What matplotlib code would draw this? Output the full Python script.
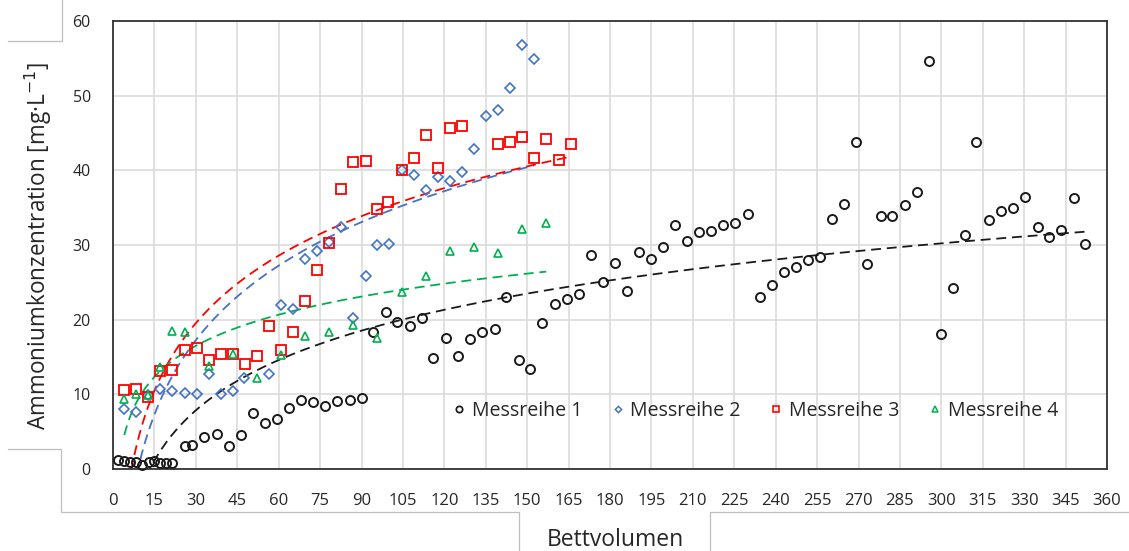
import numpy as np
import matplotlib
matplotlib.use("Agg")
import matplotlib.pyplot as plt
from matplotlib.lines import Line2D

# ---------------- data ----------------
m1_x = [1.7, 4.1, 6.2, 8.4, 10.6, 12.9, 14.9, 17.1, 19.3, 21.5,
        26.0, 28.7, 33.1, 37.5, 41.9, 46.3, 50.7, 54.9, 59.4, 63.8, 68.2, 72.5, 76.9, 81.2, 85.7, 90.0,
        94.2, 98.7, 102.9, 107.4, 111.8, 116.0, 120.7, 125.0, 129.3, 133.7, 138.2, 142.3, 146.9, 151.1,
        155.4, 159.9, 164.3, 168.6, 173.0, 177.3, 181.8, 186.0, 190.4, 194.8, 199.2, 203.6, 207.9, 212.3,
        216.5, 221.1, 225.3, 229.8,
        234.3, 238.6, 242.9, 247.4, 251.7, 256.0, 260.4, 264.8, 269.1, 273.2, 278.0, 282.3, 286.8, 291.1,
        295.4, 299.7, 304.3, 308.6, 312.7, 317.3, 321.6, 326.0, 330.3, 334.9, 339.0, 343.3, 348.1, 352.2]
m1_y = [1.2, 1.1, 0.9, 1.0, 0.6, 1.0, 1.1, 0.85, 0.75, 0.75,
        3.1, 3.2, 4.3, 4.7, 3.1, 4.5, 7.5, 6.2, 6.7, 8.2, 9.3, 9.0, 8.4, 9.1, 9.3, 9.5,
        18.3, 21.0, 19.7, 19.1, 20.2, 14.9, 17.5, 15.1, 17.4, 18.3, 18.7, 23.1, 14.6, 13.4,
        19.6, 22.1, 22.8, 23.5, 28.7, 25.1, 27.6, 23.8, 29.0, 28.1, 29.7, 32.7, 30.6, 31.8,
        31.9, 32.7, 32.9, 34.2,
        23.1, 24.6, 26.4, 27.0, 28.0, 28.4, 33.5, 35.5, 43.8, 27.5, 33.9, 33.9, 35.4, 37.1,
        54.7, 18.1, 24.2, 31.3, 43.8, 33.3, 34.6, 35.0, 36.4, 32.4, 31.1, 32.0, 36.3, 30.1]

m2_x = [4.1, 8.4, 12.8, 17.1, 21.5, 26.0, 30.3, 34.6, 39.2, 43.6, 47.5, 56.5, 60.8, 65.3, 69.5, 73.9,
        78.2, 82.7, 87.0, 91.5, 95.7, 100.1, 104.5, 108.9, 113.3, 117.7, 122.0, 126.4, 130.7, 135.1,
        139.4, 143.8, 148.2, 152.5]
m2_y = [8.0, 7.7, 9.9, 10.7, 10.5, 10.2, 10.1, 12.7, 10.1, 10.4, 12.2, 12.7, 22.0, 21.4, 28.1, 29.2,
        30.4, 32.4, 20.2, 25.9, 30.0, 30.1, 40.0, 39.4, 37.3, 39.1, 38.6, 39.8, 42.9, 47.3,
        48.1, 51.0, 56.8, 54.9]

m3_x = [4.1, 8.4, 12.8, 17.1, 21.5, 26.0, 30.3, 34.6, 39.0, 43.3, 47.7, 52.0, 56.4, 60.8, 65.3, 69.5,
        73.9, 78.2, 82.5, 87.0, 91.5, 95.7, 99.7, 104.5, 108.9, 113.2, 117.7, 121.9, 126.3, 139.5,
        143.7, 148.2, 152.5, 156.8, 161.4, 165.7]
m3_y = [10.6, 10.75, 9.7, 13.1, 13.3, 15.9, 16.2, 14.6, 15.4, 15.4, 14.0, 15.2, 19.1, 15.9, 18.3, 22.5,
        26.7, 30.3, 37.5, 41.1, 41.3, 34.8, 35.7, 40.0, 41.7, 44.7, 40.3, 45.7, 46.0, 43.5,
        43.75, 44.5, 41.7, 44.2, 41.4, 43.5]

m4_x = [4.1, 8.4, 12.8, 17.1, 21.5, 26.0, 34.6, 43.3, 52.0, 60.8, 69.5, 78.2, 87.0, 95.7, 104.5,
        113.2, 121.9, 130.8, 139.5, 148.2, 156.9]
m4_y = [9.4, 10.0, 9.9, 13.6, 18.5, 18.3, 13.8, 15.4, 12.2, 15.3, 17.8, 18.3, 19.3, 17.5, 23.7,
        25.9, 29.2, 29.7, 28.9, 32.2, 32.9]

labels = ["Messreihe 1", "Messreihe 2", "Messreihe 3", "Messreihe 4"]
x_ticks = list(range(0, 361, 15))
y_ticks = list(range(0, 61, 10))

# ---------------- style ----------------
FONT = ["Open Sans", "DejaVu Sans"]
plt.rcParams["font.family"] = FONT
TXT = "#262626"

W, H = 1129, 551
fig = plt.figure(figsize=(W / 100, H / 100), dpi=100)
ax = fig.add_axes([113 / W, 1 - 469 / H, (1107 - 113) / W, (469 - 21) / H])

series = [
    (m1_x, m1_y, "o", "#1a1a1a", 6.5, 1.4),
    (m2_x, m2_y, "D", "#4472C4", 4.6, 1.2),
    (m3_x, m3_y, "s", "#FF0000", 6.8, 1.3),
    (m4_x, m4_y, "^", "#00B050", 6.4, 1.2),
]

handles = []
for (xs, ys, mk, col, ms, mew), lab in zip(series, labels):
    xs = np.asarray(xs); ys = np.asarray(ys)
    ax.plot(xs, ys, linestyle="none", marker=mk, mfc="none", mec=col, ms=ms, mew=mew,
            zorder=3, clip_on=False)
    # logarithmic trend line (least squares in ln x)
    a, b = np.polyfit(np.log(xs), ys, 1)
    xf = np.linspace(xs.min(), xs.max(), 400)
    ax.plot(xf, a * np.log(xf) + b, color=col, lw=1.3, dashes=(5.5, 3.2), zorder=2)
    handles.append(Line2D([], [], linestyle="none", marker=mk, mfc="none", mec=col,
                          ms=ms * 0.7, mew=mew * 0.9, label=lab))

ax.set_xlim(0, 360)
ax.set_ylim(0, 60)
ax.set_xticks(x_ticks)
ax.set_yticks(y_ticks)
ax.tick_params(axis="both", length=0)
ax.tick_params(axis="x", pad=17, labelsize=12, labelcolor=TXT)
ax.tick_params(axis="y", pad=16, labelsize=11.5, labelcolor=TXT)
ax.grid(True, color="#D9D9D9", lw=1.1, zorder=0)
ax.set_axisbelow(True)
for s in ax.spines.values():
    s.set_color("#333333")
    s.set_linewidth(1.3)

leg = ax.legend(handles=handles, loc="center", bbox_to_anchor=((755.5 - 113) / 994, (469 - 410.5) / 448),
                ncol=4, frameon=False, fontsize=14.1, handlelength=0.6, handletextpad=0.36,
                columnspacing=1.5, labelcolor=TXT)

fig.text(38 / W, 1 - 246 / H, "Ammoniumkonzentration [mg·L$^{-1}$]", rotation=90,
         ha="center", va="center", fontsize=16.3, color=TXT)
fig.text(615 / W, 1 - 540 / H, "Bettvolumen", ha="center", va="center", fontsize=16.5, color=TXT)

# light grey frame fragments around the chart
gcol = "#BFBFBF"
for xs_, ys_ in [([8, 62, 62], [41, 41, 0]),
                 ([8, 61, 61, 519, 519], [449, 449, 512, 512, 551]),
                 ([710, 710, 1129], [551, 512, 512])]:
    fig.add_artist(Line2D([v / W for v in xs_], [1 - v / H for v in ys_], color=gcol, lw=0.9,
                          transform=fig.transFigure))

fig.savefig("out.png", dpi=100)
